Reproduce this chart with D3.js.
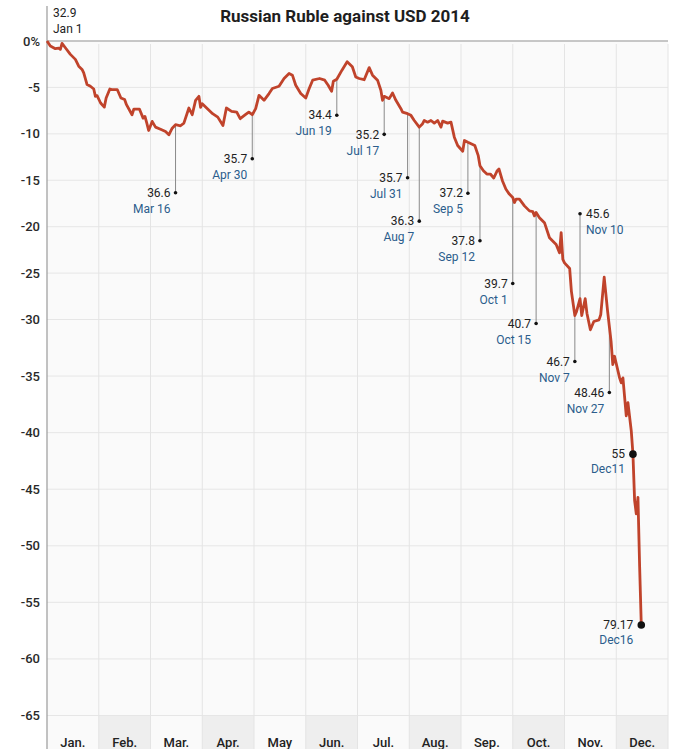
<!DOCTYPE html>
<html><head><meta charset="utf-8">
<script src="https://cdn.jsdelivr.net/npm/d3@7"></script>
<style>body{margin:0;background:#fff;} text{font-family:Roboto,"DejaVu Sans",sans-serif;}</style>
</head><body><svg id="c" width="700" height="749"></svg>
<script>
const title = "Russian Ruble against USD 2014";
const months = ["Jan.","Feb.","Mar.","Apr.","May","Jun.","Jul.","Aug.","Sep.","Oct.","Nov.","Dec."];
const yTicks = [0,-5,-10,-15,-20,-25,-30,-35,-40,-45,-50,-55,-60,-65];
const yTickLabels = ["0%","-5","-10","-15","-20","-25","-30","-35","-40","-45","-50","-55","-60","-65"];

const dates = ["2014-01-01","2014-01-03","2014-01-06","2014-01-08","2014-01-09","2014-01-10","2014-01-12","2014-01-15","2014-01-18","2014-01-20","2014-01-22","2014-01-23","2014-01-25","2014-01-27","2014-01-29","2014-01-30","2014-01-31",
"2014-02-02","2014-02-04","2014-02-05","2014-02-07","2014-02-08","2014-02-11","2014-02-13","2014-02-15","2014-02-16","2014-02-19","2014-02-20","2014-02-23","2014-02-25","2014-02-26","2014-02-27","2014-02-28",
"2014-03-02","2014-03-04","2014-03-07","2014-03-10","2014-03-12","2014-03-14","2014-03-16","2014-03-19","2014-03-21","2014-03-24","2014-03-26","2014-03-28","2014-03-30","2014-03-31",
"2014-04-01","2014-04-04","2014-04-07","2014-04-10","2014-04-13","2014-04-15","2014-04-18","2014-04-21","2014-04-23","2014-04-26","2014-04-28","2014-04-30",
"2014-05-02","2014-05-04","2014-05-07","2014-05-10","2014-05-12","2014-05-16","2014-05-19","2014-05-22","2014-05-24","2014-05-26","2014-05-29",
"2014-06-01","2014-06-03","2014-06-05","2014-06-09","2014-06-12","2014-06-14","2014-06-16","2014-06-17","2014-06-19","2014-06-22","2014-06-25","2014-06-28","2014-06-30",
"2014-07-02","2014-07-05","2014-07-08","2014-07-10","2014-07-13","2014-07-15","2014-07-16","2014-07-17","2014-07-20","2014-07-22","2014-07-24","2014-07-27","2014-07-28","2014-07-31",
"2014-08-02","2014-08-04","2014-08-07","2014-08-09","2014-08-10","2014-08-12","2014-08-14","2014-08-16","2014-08-18","2014-08-20","2014-08-21","2014-08-24","2014-08-26","2014-08-28","2014-08-30",
"2014-09-02","2014-09-03","2014-09-05","2014-09-09","2014-09-11","2014-09-12","2014-09-14","2014-09-16","2014-09-18","2014-09-20","2014-09-22","2014-09-23","2014-09-25","2014-09-27","2014-09-29",
"2014-10-01","2014-10-02","2014-10-03","2014-10-05","2014-10-08","2014-10-11","2014-10-13","2014-10-14","2014-10-15","2014-10-17","2014-10-20","2014-10-23","2014-10-27","2014-10-29","2014-10-30","2014-10-31",
"2014-11-01","2014-11-04","2014-11-05","2014-11-07","2014-11-08","2014-11-10","2014-11-11","2014-11-13","2014-11-14","2014-11-16","2014-11-18","2014-11-21","2014-11-22","2014-11-24","2014-11-26","2014-11-27","2014-11-28","2014-11-29","2014-11-30",
"2014-12-03","2014-12-04","2014-12-05","2014-12-07","2014-12-08","2014-12-10","2014-12-11","2014-12-12","2014-12-13","2014-12-14","2014-12-15","2014-12-16"];

const pctChange = [0,-0.54,-0.83,-0.76,-0.90,-0.25,-0.73,-1.44,-1.98,-2.71,-3.06,-3.43,-4.69,-4.87,-5.17,-5.96,-5.88,
-6.68,-7.12,-6.14,-5.17,-5.23,-5.23,-6.14,-6.31,-6.86,-7.94,-7.33,-7.33,-8.31,-8.12,-8.85,-9.64,
-8.66,-9.28,-9.50,-9.75,-10.10,-9.39,-9.02,-9.13,-8.85,-7.22,-7.94,-6.39,-5.96,-7.15,
-6.75,-7.29,-7.83,-8.20,-9.10,-7.22,-7.58,-7.66,-8.37,-7.94,-7.66,-7.94,
-7.29,-5.85,-6.39,-5.66,-5.12,-4.87,-4.04,-3.50,-3.68,-4.77,-5.66,
-6.14,-5.12,-4.22,-4.04,-4.22,-4.77,-5.42,-4.33,-4.12,-3.14,-2.24,-2.78,-3.87,
-4.04,-4.17,-2.87,-3.68,-4.22,-5.31,-6.39,-5.96,-6.21,-5.60,-6.39,-7.29,-7.66,-7.83,
-8.01,-8.56,-9.28,-8.91,-8.56,-8.74,-8.56,-8.85,-8.56,-9.28,-8.63,-8.85,-8.74,-10.36,-11.26,
-11.88,-10.72,-10.91,-11.26,-12.35,-13.43,-13.97,-14.33,-14.33,-14.76,-13.97,-13.79,-15.05,-15.95,-16.49,
-16.86,-17.40,-17.04,-17.04,-17.76,-18.30,-18.38,-18.84,-18.47,-19.03,-19.57,-21.19,-21.91,-22.82,-20.65,-23.53,
-23.90,-24.51,-26.97,-29.57,-29.13,-27.76,-29.57,-27.76,-29.32,-30.91,-30.18,-30.03,-29.49,-25.45,-29.13,-30.62,-31.93,-33.98,-33.25,
-35.16,-35.60,-35.16,-38.52,-37.35,-39.84,-41.90,-46.00,-47.17,-45.72,-51.80,-57.00];

// annotations: exchange rate (RUB per USD) on given dates
const annDates = ["2014-03-16","2014-04-30","2014-06-19","2014-07-17","2014-07-31","2014-08-07","2014-09-05","2014-09-12","2014-10-01","2014-10-15","2014-11-10","2014-11-07","2014-11-27"];
const annRates = ["36.6","35.7","34.4","35.2","35.7","36.3","37.2","37.8","39.7","40.7","45.6","46.7","48.46"];
const annLabels = ["Mar 16","Apr 30","Jun 19","Jul 17","Jul 31","Aug 7","Sep 5","Sep 12","Oct 1","Oct 15","Nov 10","Nov 7","Nov 27"];
const bigDates = ["2014-12-11","2014-12-16"];
const bigRates = ["55","79.17"];
const bigLabels = ["Dec11","Dec16"];
const startRate = "32.9", startLabel = "Jan 1";

// layout (not data)
const annLeader = [68,44,36,38,64,94,51,75,86,111,-85,46,66];

const svg = d3.select("#c");
const L = 47, R = 668, T = 41, B = 749;
const x = d3.scaleLinear().domain([0,12]).range([L,R]);
const y = d3.scaleLinear().domain([0,-30,-65]).range([41,319.5,715.5]);
const parse = d3.timeParse("%Y-%m-%d");
function xd(s){const d=parse(s);const m=d.getMonth();const dim=new Date(d.getFullYear(),m+1,0).getDate();return x(m+(d.getDate()-1)/dim);}
const series = dates.map((d,i)=>({date:d,v:pctChange[i]}));
const valAt = s => pctChange[dates.indexOf(s)];

// background
svg.append("rect").attr("x",L).attr("y",T).attr("width",R-L).attr("height",B-T).attr("fill","#fafafa");
// bottom band
svg.selectAll(".band").data(months).enter().append("rect")
  .attr("x",(d,i)=>x(i)).attr("y",y(-65)).attr("width",(d,i)=>x(i+1)-x(i)).attr("height",B-y(-65))
  .attr("fill",(d,i)=>i%2===1?"#eeeeee":"#fafafa");
// gridlines
svg.selectAll(".hg").data(yTicks.slice(1)).enter().append("line")
  .attr("x1",L).attr("x2",R).attr("y1",d=>y(d)).attr("y2",d=>y(d)).attr("stroke","#e6e6e6");
svg.selectAll(".vg").data(d3.range(1,13)).enter().append("line")
  .attr("x1",d=>x(d)).attr("x2",d=>x(d)).attr("y1",T+3).attr("y2",B).attr("stroke","#e4e4e4");
// zero line
svg.append("line").attr("x1",L).attr("x2",R).attr("y1",y(0)).attr("y2",y(0)).attr("stroke","#b5b5b5").attr("stroke-width",1.5);
// left axis
svg.append("line").attr("x1",L).attr("x2",L).attr("y1",6).attr("y2",B).attr("stroke","#9a9a9a").attr("stroke-width",1.2);
// y labels
svg.selectAll(".yl").data(yTicks).enter().append("text")
  .attr("x",40).attr("y",d=>y(d)).attr("dy","0.35em").attr("text-anchor","end")
  .attr("font-size",13).attr("font-weight",500).attr("fill","#2a2a2a").text((d,i)=>yTickLabels[i]);
// month labels
svg.selectAll(".ml").data(months).enter().append("text")
  .attr("x",(d,i)=>x(i+0.5)).attr("y",747).attr("text-anchor","middle")
  .attr("font-size",13).attr("font-weight",500).attr("fill","#222").text(d=>d);
// title
svg.append("text").attr("x",345).attr("y",22).attr("text-anchor","middle")
  .attr("font-size",17).attr("font-weight",700).attr("fill","#1e1e1e").text(title);

// annotation leaders
const ann = annDates.map((d,i)=>({x:xd(d),y:y(valAt(d)),len:annLeader[i],rate:annRates[i],lab:annLabels[i]}));
svg.selectAll(".ld").data(ann).enter().append("line")
  .attr("x1",d=>d.x).attr("x2",d=>d.x).attr("y1",d=>d.y).attr("y2",d=>d.y+d.len)
  .attr("stroke","#8a8a8a").attr("stroke-width",1);

// line
svg.append("path").datum(series).attr("fill","none").attr("stroke","#c0432b").attr("stroke-width",2.8)
  .attr("stroke-linejoin","round").attr("d",d3.line().x(d=>xd(d.date)).y(d=>y(d.v)));

// annotation dots & labels
ann.forEach(a=>{
  const dy=a.y+a.len;
  svg.append("circle").attr("cx",a.x).attr("cy",dy).attr("r",1.8).attr("fill","#111");
  const right = a.len<0;
  const tx = right ? a.x+6 : a.x-5;
  const anc = right ? "start" : "end";
  svg.append("text").attr("x",tx).attr("y",dy).attr("dy","0.35em").attr("text-anchor",anc)
    .attr("font-size",12).attr("fill","#222").text(a.rate);
  svg.append("text").attr("x",tx).attr("y",dy+16).attr("dy","0.35em").attr("text-anchor",anc)
    .attr("font-size",12).attr("fill","#2b5d8c").text(a.lab);
});
// big dots
bigDates.forEach((d,i)=>{
  const cx=xd(d), cy=y(valAt(d));
  svg.append("circle").attr("cx",cx).attr("cy",cy).attr("r",3.8).attr("fill","#111");
  svg.append("text").attr("x",cx-8).attr("y",cy).attr("dy","0.35em").attr("text-anchor","end")
    .attr("font-size",12).attr("fill","#222").text(bigRates[i]);
  svg.append("text").attr("x",cx-8).attr("y",cy+15).attr("dy","0.35em").attr("text-anchor","end")
    .attr("font-size",12).attr("fill","#2b5d8c").text(bigLabels[i]);
});
// start label
svg.append("text").attr("x",L+6).attr("y",13).attr("dy","0.35em").attr("font-size",12).attr("fill","#222").text(startRate);
svg.append("text").attr("x",L+6).attr("y",29).attr("dy","0.35em").attr("font-size",12).attr("fill","#222").text(startLabel);
</script></body></html>
